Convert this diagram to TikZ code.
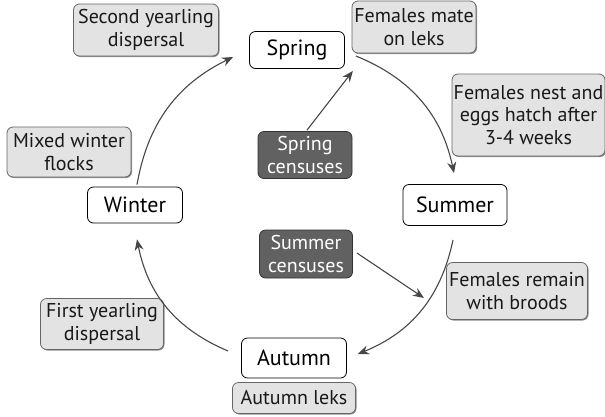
\documentclass[tikz,border=0pt]{standalone}
\usepackage{fontspec}
\setmainfont{PT Sans}
\usetikzlibrary{arrows.meta,shadows}
\begin{document}
\begin{tikzpicture}[x=1pt,y=-1pt,
  season/.style={draw=black, line width=0.8pt, rounded corners=6pt, fill=white,
    font=\fontsize{22}{24}\selectfont, inner sep=0pt, align=center},
  note/.style={draw=black!60, line width=0.8pt, rounded corners=6pt, fill=black!11,
    font=\fontsize{20}{22.5}\selectfont, align=center, inner sep=0pt, text=black!90,
    drop shadow={shadow xshift=1pt, shadow yshift=-1pt, fill=black!45, opacity=1}},
  census/.style={draw=black!80, line width=0.8pt, rounded corners=6pt, fill=black!62,
    font=\fontsize{20}{22.5}\selectfont, align=center, inner sep=0pt, text=white},
  arr/.style={draw=black!72, line width=1.1pt, -{Stealth[length=11pt,width=9pt]}}]
\path[use as bounding box] (0,0) rectangle (605,416);

% seasons
\node[season, minimum width=95pt, minimum height=37pt] (spring) at (297,50) {Spring};
\node[season, minimum width=104pt, minimum height=41pt] (summer) at (455,205) {Summer};
\node[season, minimum width=105pt, minimum height=40pt] (autumn) at (294,358) {Autumn};
\node[season, minimum width=95pt, minimum height=36pt] (winter) at (135,205) {Winter};

% notes
\node[note, minimum width=124pt, minimum height=52pt] (mate) at (414,27) {Females mate\\on leks};
\node[note, minimum width=145pt, minimum height=52pt] (second) at (146,30) {Second yearling\\dispersal};
\node[note, minimum width=124pt, minimum height=50pt] (mixed) at (69,152) {Mixed winter\\flocks};
\node[note, minimum width=153pt, minimum height=82pt] (nest) at (528.5,115) {Females nest and\\eggs hatch after\\3-4 weeks};
\node[note, minimum width=141pt, minimum height=57pt] (broods) at (517,291) {Females remain\\with broods};
\node[note, minimum width=123pt, minimum height=51pt] (first) at (102,324) {First yearling\\dispersal};
\node[note, minimum width=123pt, minimum height=31pt] (leks) at (294,398) {Autumn leks};

% censuses
\node[census, minimum width=94pt, minimum height=47pt] (spcens) at (305,155) {Spring\\censuses};
\node[census, minimum width=93pt, minimum height=48pt] (sucens) at (306,254) {Summer\\censuses};

% connector end points
\coordinate (w1) at ([shift={(2,-2)}]winter.north);
\coordinate (w2) at ([shift={(-16,7)}]spring.west);
\coordinate (s1) at ([shift={(11,6)}]spring.east);
\coordinate (s2) at ([shift={(-1,-11)}]summer.north);
\coordinate (u1) at ([shift={(-2,14)}]summer.south);
\coordinate (u2) at ([shift={(11,-4)}]autumn.east);
\coordinate (a1) at ([shift={(-13,-7)}]autumn.west);
\coordinate (a2) at ([shift={(2,16)}]winter.south);
\coordinate (c1) at ([shift={(2,-1)}]spcens.north);
\coordinate (c2) at ([shift={(8,2)}]spring.south east);
\coordinate (d1) at ([shift={(4,-1)}]sucens.east);
\coordinate (d2) at (424,298);

\draw[arr] (w1) to[bend left=27] (w2);
\draw[arr] (s1) to[bend left=28] (s2);
\draw[arr] (u1) to[bend left=28] (u2);
\draw[arr] (a1) to[bend left=28] (a2);
\draw[arr] (c1) -- (c2);
\draw[arr] (d1) -- (d2);
\end{tikzpicture}
\end{document}
